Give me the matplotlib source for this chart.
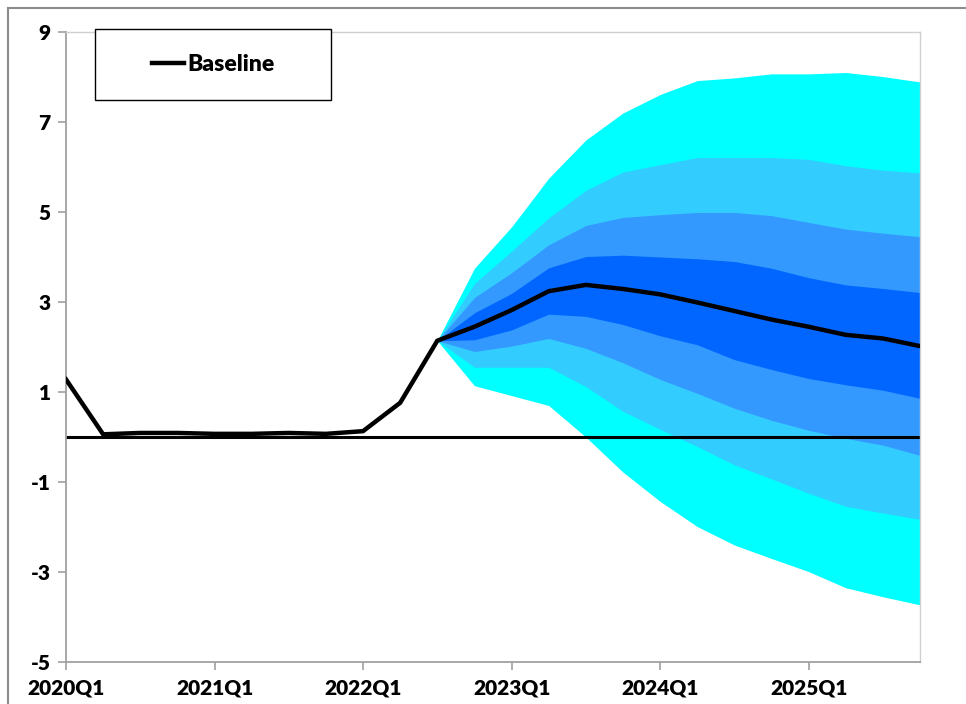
import matplotlib
matplotlib.use("Agg")
import matplotlib.pyplot as plt
from matplotlib.patches import Rectangle
from matplotlib.lines import Line2D
import numpy as np

plt.rcParams['font.family'] = ['Lato', 'DejaVu Sans']
plt.rcParams['font.weight'] = 'bold'

# Quarterly periods 2020Q1 .. 2025Q4
quarters = [f"{y}Q{q}" for y in range(2020, 2026) for q in range(1, 5)]
tick_labels = ["2020Q1", "2021Q1", "2022Q1", "2023Q1", "2024Q1", "2025Q1"]

baseline = [1.28, 0.06, 0.09, 0.09, 0.07, 0.07, 0.09, 0.07, 0.13, 0.76, 2.14,
            2.45, 2.82, 3.24, 3.38, 3.29, 3.17, 2.99, 2.80, 2.61, 2.45, 2.27, 2.19, 2.02]

# Fan bands start at 2022Q3 (index 10)
fan_start = 10
outer_hi = [2.14, 3.75, 4.67, 5.75, 6.60, 7.20, 7.61, 7.92, 7.98, 8.07, 8.07, 8.10, 8.01, 7.89]
outer_lo = [2.14, 1.14, 0.92, 0.70, 0.00, -0.78, -1.43, -1.99, -2.40, -2.70, -2.99, -3.35, -3.55, -3.73]
mid2_hi = [2.14, 3.41, 4.13, 4.87, 5.48, 5.89, 6.05, 6.21, 6.21, 6.21, 6.17, 6.03, 5.93, 5.87]
mid2_lo = [2.14, 1.55, 1.55, 1.55, 1.12, 0.57, 0.17, -0.21, -0.62, -0.93, -1.25, -1.54, -1.69, -1.83]
mid1_hi = [2.14, 3.10, 3.65, 4.27, 4.70, 4.88, 4.94, 4.99, 4.99, 4.92, 4.77, 4.62, 4.53, 4.45]
mid1_lo = [2.14, 1.90, 2.02, 2.19, 1.97, 1.65, 1.28, 0.97, 0.64, 0.37, 0.15, -0.03, -0.18, -0.41]
inner_hi = [2.14, 2.76, 3.19, 3.76, 4.01, 4.04, 4.00, 3.96, 3.90, 3.75, 3.54, 3.38, 3.30, 3.21]
inner_lo = [2.14, 2.16, 2.38, 2.73, 2.68, 2.50, 2.25, 2.05, 1.72, 1.50, 1.30, 1.16, 1.04, 0.86]

band_colors = ["#00FFFF", "#33CCFF", "#3399FF", "#0066FF"]

fig = plt.figure(figsize=(9.66, 7.04), dpi=100)
ax = fig.add_axes([66 / 966, 1 - 662 / 704, (920 - 66) / 966, (662 - 32) / 704])

x = np.arange(len(quarters))
xf = x[fan_start:]
bands = [(outer_lo, outer_hi), (mid2_lo, mid2_hi), (mid1_lo, mid1_hi), (inner_lo, inner_hi)]
for (lo, hi), c in zip(bands, band_colors):
    ax.fill_between(xf, lo, hi, color=c, linewidth=0, zorder=1)

ax.axhline(0, color="black", linewidth=2.2, zorder=2)
ax.plot(x, baseline, color="black", linewidth=3.2, zorder=3, solid_joinstyle="miter")

ax.set_xlim(0, len(quarters) - 1)
ax.set_ylim(-5, 9)
ax.set_yticks(np.arange(-5, 10, 2))
ax.set_yticklabels([str(v) for v in range(-5, 10, 2)])
ax.set_xticks([quarters.index(t) for t in tick_labels])
ax.set_xticklabels(tick_labels)

ax.tick_params(axis="both", labelsize=15, colors="#A0A0A0", labelcolor="black",
               length=6, width=1.2)
ax.tick_params(axis="y", pad=5)
ax.tick_params(axis="x", pad=6)
for lab in ax.get_xticklabels() + ax.get_yticklabels():
    lab.set_fontweight("heavy")

for side in ["left", "bottom"]:
    ax.spines[side].set_color("#A0A0A0")
    ax.spines[side].set_linewidth(1.3)
for side in ["top", "right"]:
    ax.spines[side].set_color("#D0D0D0")
    ax.spines[side].set_linewidth(1.0)

# Legend box
bx0 = (95 - 66) / 854
bx1 = (331 - 66) / 854
by0 = (662 - 100) / 630
by1 = (662 - 29) / 630
ax.add_patch(Rectangle((bx0, by0), bx1 - bx0, by1 - by0, transform=ax.transAxes,
                       facecolor="white", edgecolor="black", linewidth=1.0,
                       clip_on=False, zorder=5))
handle = Line2D([], [], color="black", linewidth=3.2)
leg = ax.legend([handle], ["Baseline"], loc="center",
                bbox_to_anchor=((bx0 + bx1) / 2, (by0 + by1) / 2),
                frameon=False, handlelength=1.4, handletextpad=0.15,
                prop={"size": 16.5, "weight": "heavy"})
leg.set_zorder(6)

# Outer chart frame
fig.add_artist(Line2D([8 / 966, 1], [1 - 8 / 704, 1 - 8 / 704], transform=fig.transFigure,
                      color="#8C8C8C", linewidth=1.5))
fig.add_artist(Line2D([8 / 966, 8 / 966], [0, 1 - 8 / 704], transform=fig.transFigure,
                      color="#8C8C8C", linewidth=1.5))

fig.savefig("out.png", dpi=100, facecolor="white")
